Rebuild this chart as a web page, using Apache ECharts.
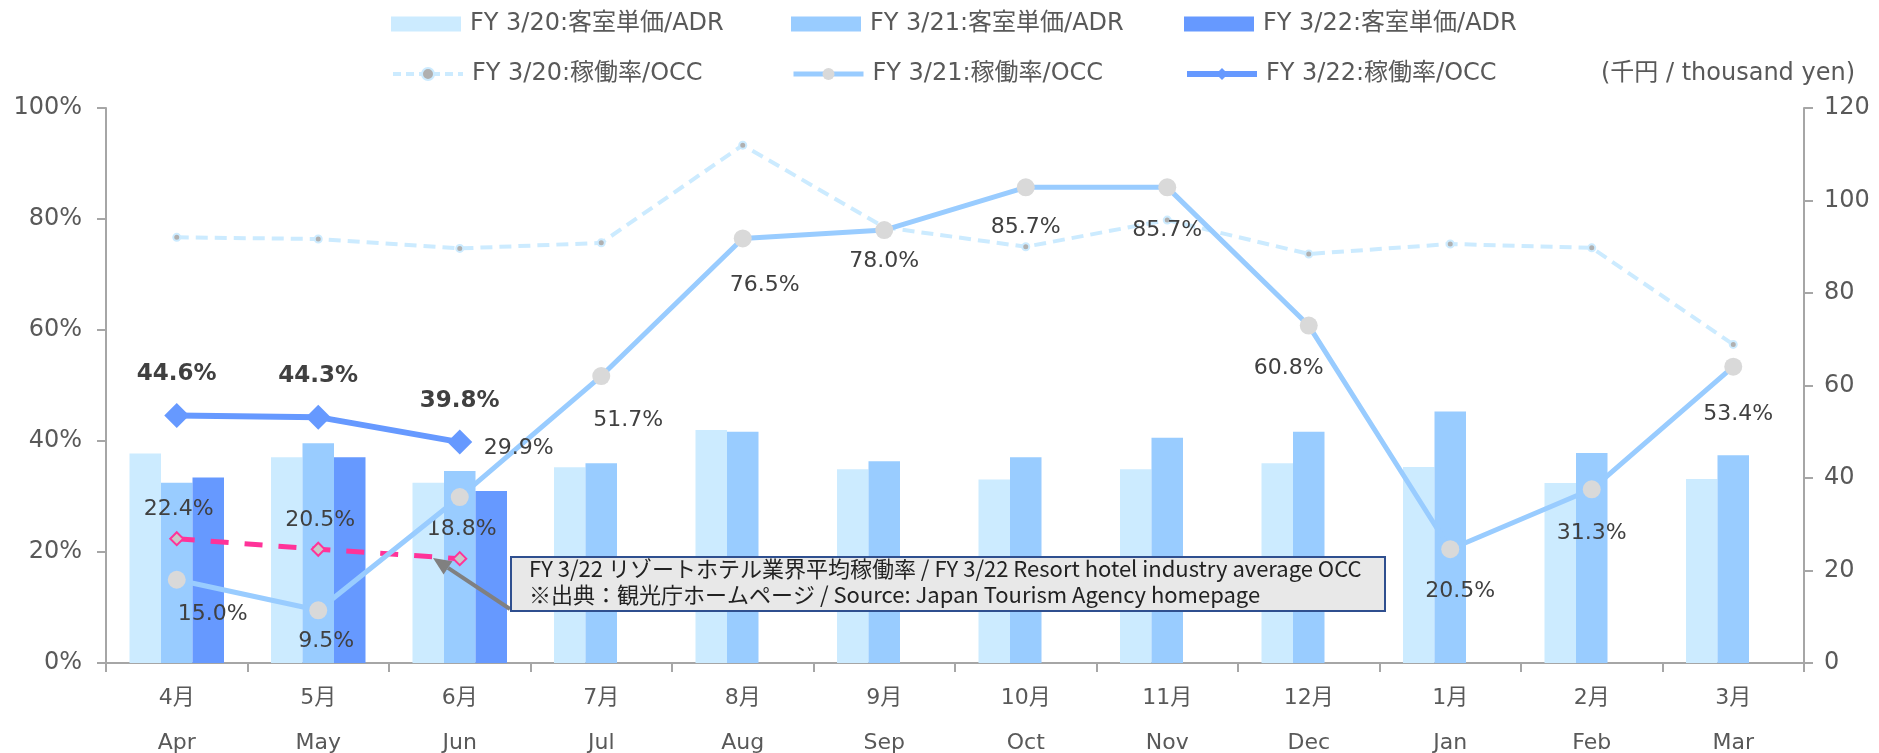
<!DOCTYPE html>
<html>
<head>
<meta charset="utf-8">
<script src="https://cdn.jsdelivr.net/npm/echarts@6/dist/echarts.min.js"></script>
<style>
  html, body { margin: 0; padding: 0; background: #fff; }
  #main { width: 1879px; height: 753px; }
</style>
</head>
<body>
<div id="main"></div>
<script>
// 月ラベル
const monthsJa = ['4月', '5月', '6月', '7月', '8月', '9月', '10月', '11月', '12月', '1月', '2月', '3月']
const monthsEn = ['Apr', 'May', 'Jun', 'Jul', 'Aug', 'Sep', 'Oct', 'Nov', 'Dec', 'Jan', 'Feb', 'Mar']

// 客室単価 (千円)
const adr20 = [45.3, 44.5, 39.0, 42.3, 50.4, 41.9, 39.7, 41.9, 43.2, 42.4, 38.9, 39.8]
const adr21 = [39.0, 47.5, 41.5, 43.2, 50.0, 43.6, 44.5, 48.7, 50.0, 54.4, 45.4, 44.9]
const adr22 = [40.1, 44.5, 37.2, '-', '-', '-', '-', '-', '-', '-', '-', '-']

// 稼働率 (%)
const occ20 = [76.7, 76.4, 74.7, 75.7, 93.3, 78.5, 75.0, 79.8, 73.7, 75.5, 74.8, 57.4]
const occ21 = [15.0, 9.5, 29.9, 51.7, 76.5, 78.0, 85.7, 85.7, 60.8, 20.5, 31.3, 53.4]
const occ22 = [44.6, 44.3, 39.8, '-', '-', '-', '-', '-', '-', '-', '-', '-']
const resortAvg = [22.4, 20.5, 18.8, '-', '-', '-', '-', '-', '-', '-', '-', '-']

// ラベル位置の調整 (px)
const occ21LabelOffsets = [[36, 35], [8, 31], [59, -49], [27, 44], [22, 47], [0, 31],
  [0, 40], [0, 43], [-20, 43], [10, 42], [0, 44], [5, 48]]

const FONT = "'DejaVu Sans', 'Noto Sans CJK JP', sans-serif"
const LABEL_COLOR = '#404040'
const AXIS_COLOR = '#A6A6A6'

const C20 = '#CCEBFF'
const C21 = '#99CCFF'
const C22 = '#6699FF'
const PINK = '#FF3399'

const names = [
  'FY 3/20:客室単価/ADR', 'FY 3/21:客室単価/ADR', 'FY 3/22:客室単価/ADR',
  'FY 3/20:稼働率/OCC', 'FY 3/21:稼働率/OCC', 'FY 3/22:稼働率/OCC'
]
const legendX = [386, 786, 1179]
const legendLines = [null, null, null,
  { color: C20, width: 4, type: [8, 5] },
  { color: C21, width: 5 },
  { color: C22, width: 6 }]

const chart = echarts.init(document.getElementById('main'))

function makeLegend(name, i) {
  const lg = {
    data: [name],
    left: legendX[i % 3],
    top: i < 3 ? 7 : 57,
    itemWidth: 70,
    itemHeight: 15,
    itemGap: 0,
    selectedMode: false,
    textStyle: { fontFamily: FONT, fontSize: 24, color: '#595959', padding: [0, 0, 0, 4] }
  }
  if (legendLines[i]) lg.lineStyle = legendLines[i]
  else lg.icon = 'rect'
  return lg
}

const pct = p => Number(p.value).toFixed(1) + '%'

const option = {
  animation: false,
  legend: names.map(makeLegend),
  grid: { left: 106, right: 75, top: 108, bottom: 90, outerBoundsMode: 'none' },
  xAxis: {
    type: 'category',
    data: monthsJa.map((m, i) => m + '\n' + monthsEn[i]),
    axisLine: { lineStyle: { color: AXIS_COLOR, width: 2 } },
    axisTick: { show: true, length: 9, lineStyle: { color: AXIS_COLOR, width: 2 } },
    axisLabel: { fontFamily: FONT, fontSize: 22, color: '#595959', lineHeight: 45, margin: 13 }
  },
  yAxis: [
    {
      type: 'value', min: 0, max: 100, interval: 20,
      axisLine: { show: true, lineStyle: { color: AXIS_COLOR, width: 2 } },
      axisTick: { show: true, length: 9, lineStyle: { color: AXIS_COLOR, width: 2 } },
      splitLine: { show: false },
      axisLabel: { formatter: '{value}%', fontFamily: FONT, fontSize: 24, color: '#595959', margin: 24 }
    },
    {
      type: 'value', min: 0, max: 120, interval: 20,
      axisLine: { show: true, lineStyle: { color: AXIS_COLOR, width: 2 } },
      axisTick: { show: true, length: 9, lineStyle: { color: AXIS_COLOR, width: 2 } },
      splitLine: { show: false },
      axisLabel: { fontFamily: FONT, fontSize: 24, color: '#595959', margin: 20 }
    }
  ],
  series: [
    { name: names[0], type: 'bar', yAxisIndex: 1, data: adr20, barWidth: 31.5, barGap: '0%', itemStyle: { color: C20 } },
    { name: names[1], type: 'bar', yAxisIndex: 1, data: adr21, barWidth: 31.5, barGap: '0%', itemStyle: { color: C21 } },
    { name: names[2], type: 'bar', yAxisIndex: 1, data: adr22, barWidth: 31.5, barGap: '0%', itemStyle: { color: C22 } },
    {
      name: names[3], type: 'line', yAxisIndex: 0, data: occ20, z: 3,
      symbol: 'circle', symbolSize: 7,
      lineStyle: { color: C20, width: 4, type: [12, 7] },
      itemStyle: { color: '#B0B0B0', borderColor: C20, borderWidth: 2 }
    },
    {
      name: 'resort', type: 'line', yAxisIndex: 0, data: resortAvg, z: 4,
      symbol: 'diamond', symbolSize: 13,
      lineStyle: { color: PINK, width: 5, type: [18, 16] },
      itemStyle: { color: '#C8C8C8', borderColor: PINK, borderWidth: 2 },
      label: {
        show: true, position: 'inside', offset: [2, -29], formatter: pct,
        fontFamily: FONT, fontSize: 22, color: LABEL_COLOR
      }
    },
    {
      name: names[4], type: 'line', yAxisIndex: 0, z: 5,
      data: occ21.map((v, i) => ({ value: v, label: { offset: occ21LabelOffsets[i] } })),
      symbol: 'circle', symbolSize: 18,
      lineStyle: { color: C21, width: 5 },
      itemStyle: { color: '#D9D9D9' },
      label: {
        show: true, position: 'inside', formatter: pct,
        fontFamily: FONT, fontSize: 22, color: LABEL_COLOR
      }
    },
    {
      name: names[5], type: 'line', yAxisIndex: 0, data: occ22, z: 6,
      symbol: 'diamond', symbolSize: 25,
      lineStyle: { color: C22, width: 6 },
      itemStyle: { color: C22 },
      label: {
        show: true, position: 'inside', offset: [0, -41], formatter: pct,
        fontFamily: FONT, fontSize: 23, fontWeight: 'bold', color: LABEL_COLOR
      }
    }
  ]
}

chart.setOption(option)

// 注記ボックスと矢印
const tip = [433, 558]
const tail = [510, 609]
const ang = Math.atan2(tip[1] - tail[1], tip[0] - tail[0])
const headLen = 18, headW = 8
const base = [tip[0] - headLen * Math.cos(ang), tip[1] - headLen * Math.sin(ang)]
const head = [
  tip,
  [base[0] + headW * Math.sin(ang), base[1] - headW * Math.cos(ang)],
  [base[0] - headW * Math.sin(ang), base[1] + headW * Math.cos(ang)]
]

chart.setOption({
  graphic: [
    {
      type: 'text', right: 24, top: 62,
      style: { text: '(千円 / thousand yen)', font: "24px 'DejaVu Sans', 'Noto Sans CJK JP'", fill: '#595959' }
    },
    {
      type: 'line', z: 100,
      shape: { x1: tail[0], y1: tail[1], x2: base[0], y2: base[1] },
      style: { stroke: '#808080', lineWidth: 4 }
    },
    {
      type: 'polygon', z: 100,
      shape: { points: head },
      style: { fill: '#808080' }
    },
    {
      type: 'rect', z: 100,
      shape: { x: 511, y: 557, width: 874, height: 54 },
      style: { fill: '#E8E8E8', stroke: '#2F4F8F', lineWidth: 2 }
    },
    {
      type: 'text', z: 101, x: 529, y: 569,
      style: {
        text: 'FY 3/22 リゾートホテル業界平均稼働率 / FY 3/22 Resort hotel industry average OCC',
        font: "22px 'Noto Sans CJK JP'", fill: '#222', verticalAlign: 'middle'
      }
    },
    {
      type: 'text', z: 101, x: 529, y: 595,
      style: {
        text: '※出典：観光庁ホームページ / Source: Japan Tourism Agency homepage',
        font: "22px 'Noto Sans CJK JP'", fill: '#222', verticalAlign: 'middle'
      }
    }
  ]
})
</script>
</body>
</html>
